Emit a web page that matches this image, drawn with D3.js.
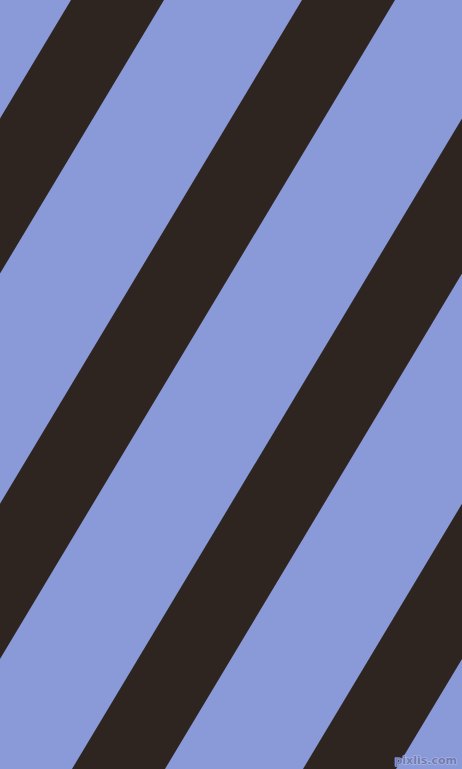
<html>
<head>
<script src="https://d3js.org/d3.v7.min.js"></script>
<style>
  body { margin: 0; background: #8a99d8; }
  svg { display: block; }
</style>
</head>
<body>
<svg width="462" height="769"></svg>
<script>
// stripe left edges measured along the top row (px at y = 0)
var stripeStarts = [71, 302, 533, 764];
var stripeWidth = [93];
// how far a stripe edge moves left between the top and the bottom
var rows = [0, 769];
var shifts = [0, -461];
var colors = ["#8a99d8", "#2e2521"];

var svg = d3.select("svg");
var W = 462, H = 769;

var shift = d3.scaleLinear().domain(rows).range(shifts);

svg.append("rect")
  .attr("width", W)
  .attr("height", H)
  .attr("fill", colors[0]);

var line = d3.line();

svg.selectAll("path.stripe")
  .data(stripeStarts)
  .enter()
  .append("path")
  .attr("class", "stripe")
  .attr("fill", colors[1])
  .attr("d", function (d) {
    var w = stripeWidth[0];
    return line([
      [d + shift(0), 0],
      [d + w + shift(0), 0],
      [d + w + shift(H), H],
      [d + shift(H), H]
    ]) + "Z";
  });

// watermark
svg.append("text")
  .attr("x", 457)
  .attr("y", 764)
  .attr("text-anchor", "end")
  .style("font-family", "DejaVu Sans, sans-serif")
  .style("font-size", "11px")
  .style("font-weight", "bold")
  .attr("fill", "#6f7bb0")
  .attr("stroke", "#b3bdea")
  .attr("stroke-width", 1.2)
  .attr("paint-order", "stroke")
  .text("pixlis.com");
</script>
</body>
</html>
